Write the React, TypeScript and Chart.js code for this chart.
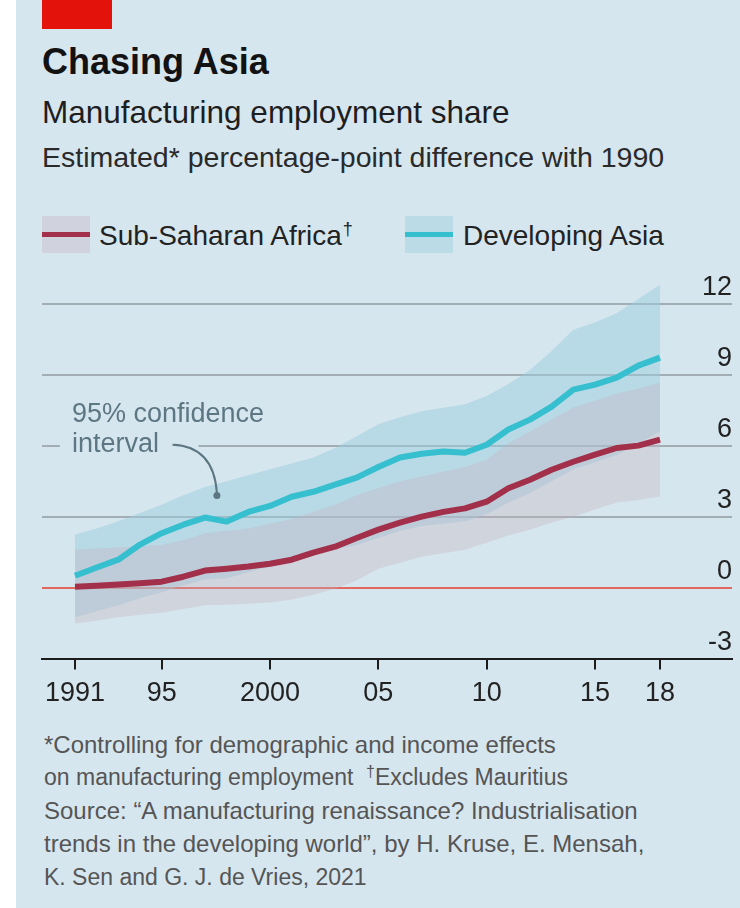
import React, { useEffect, useRef } from 'react';
import { Chart, registerables } from 'chart.js';

Chart.register(...registerables);

// ---------- data ----------
const YEARS = [1991, 1992, 1993, 1994, 1995, 1996, 1997, 1998, 1999, 2000, 2001, 2002, 2003, 2004,
  2005, 2006, 2007, 2008, 2009, 2010, 2011, 2012, 2013, 2014, 2015, 2016, 2017, 2018];

const AFRICA = [0.04, 0.08, 0.13, 0.18, 0.25, 0.46, 0.72, 0.8, 0.89, 1.01, 1.18, 1.48, 1.73, 2.1,
  2.45, 2.75, 3.0, 3.2, 3.35, 3.63, 4.2, 4.56, 4.98, 5.32, 5.62, 5.9, 6.0, 6.25];
const AFRICA_LOW = [-1.52, -1.4, -1.25, -1.15, -1.06, -0.9, -0.75, -0.72, -0.68, -0.63, -0.5, -0.3, -0.05, 0.3,
  0.8, 1.05, 1.3, 1.45, 1.6, 1.9, 2.2, 2.45, 2.75, 3.0, 3.3, 3.6, 3.7, 3.85];
const AFRICA_HIGH = [1.6, 1.65, 1.7, 1.75, 1.8, 2.0, 2.3, 2.4, 2.5, 2.7, 2.9, 3.2, 3.5, 3.9,
  4.2, 4.5, 4.7, 4.9, 5.1, 5.4, 6.1, 6.6, 7.1, 7.6, 7.9, 8.2, 8.4, 8.66];

const ASIA = [0.5, 0.85, 1.18, 1.82, 2.3, 2.66, 2.96, 2.79, 3.2, 3.45, 3.84, 4.05, 4.35, 4.65,
  5.1, 5.5, 5.66, 5.75, 5.7, 6.04, 6.68, 7.1, 7.65, 8.37, 8.58, 8.87, 9.38, 9.72];
const ASIA_LOW = [-1.25, -1.0, -0.75, -0.45, -0.2, 0.1, 0.35, 0.4, 0.65, 0.9, 1.2, 1.4, 1.6, 1.8,
  2.1, 2.4, 2.6, 2.7, 2.8, 3.1, 3.6, 4.0, 4.5, 5.0, 5.3, 5.6, 6.1, 6.6];
const ASIA_HIGH = [2.24, 2.5, 2.8, 3.15, 3.5, 3.9, 4.25, 4.5, 4.75, 5.0, 5.25, 5.5, 5.9, 6.4,
  6.9, 7.2, 7.45, 7.6, 7.75, 8.1, 8.6, 9.2, 10.0, 10.9, 11.2, 11.6, 12.2, 12.8];

const X_TICKS = [1991, 1995, 2000, 2005, 2010, 2015, 2018];
const X_LABELS = ['1991', '95', '2000', '05', '10', '15', '18'];
const Y_TICKS = [-3, 0, 3, 6, 9, 12];
const SERIES_NAMES = ['Sub-Saharan Africa', 'Developing Asia'];

// ---------- styles ----------
const BG = '#d6e6ef';
const AFRICA_COLOR = '#a3304b';
const ASIA_COLOR = '#36bfcf';
const AFRICA_FILL = 'rgba(197,179,190,0.35)';
const ASIA_FILL = 'rgba(154,206,221,0.5)';
const AFRICA_BOX = '#d0d3dd';
const ASIA_BOX = '#bbdbe7';
const GRID = '#a2adb4';
const ZERO = '#e2685f';
const AXIS = '#1c1c1c';
const ANNOT = '#5c7682';
const TEXT_FONT = "'Liberation Sans', Arial, sans-serif";

const toPoints = (vals: number[]) => YEARS.map((yr, i) => ({ x: yr, y: vals[i] }));

const annotationPlugin = {
  id: 'ciAnnotation',
  beforeDatasetsDraw(chart: any) {
    const { ctx, scales } = chart;
    const x = scales.x;
    const y = scales.y;
    const x0 = x.getPixelForValue(1990.3);
    const x1 = x.getPixelForValue(1996.7);
    const gy = y.getPixelForValue(6);
    ctx.save();
    ctx.fillStyle = BG;
    ctx.fillRect(x0, gy - 3, x1 - x0, 6);
    ctx.restore();
  },
  afterDatasetsDraw(chart: any) {
    const { ctx, scales } = chart;
    const x = scales.x;
    const y = scales.y;
    ctx.save();
    ctx.fillStyle = ANNOT;
    ctx.font = `27px ${TEXT_FONT}`;
    ctx.textAlign = 'left';
    ctx.textBaseline = 'alphabetic';
    ctx.fillText('95% confidence', x.getPixelForValue(1990.86), y.getPixelForValue(6.99));
    ctx.fillText('interval', x.getPixelForValue(1990.86), y.getPixelForValue(5.72));
    ctx.strokeStyle = ANNOT;
    ctx.lineWidth = 2;
    ctx.beginPath();
    ctx.moveTo(x.getPixelForValue(1995.5), y.getPixelForValue(6.04));
    ctx.quadraticCurveTo(x.getPixelForValue(1997.4), y.getPixelForValue(5.98),
      x.getPixelForValue(1997.55), y.getPixelForValue(4.0));
    ctx.stroke();
    ctx.beginPath();
    ctx.arc(x.getPixelForValue(1997.55), y.getPixelForValue(3.89), 3.5, 0, Math.PI * 2);
    ctx.fill();
    ctx.restore();
  },
};

function ChartCanvas() {
  const ref = useRef<HTMLCanvasElement | null>(null);
  useEffect(() => {
    if (!ref.current) return;
    const common = { pointRadius: 0, pointHoverRadius: 0, tension: 0 };
    const chart = new Chart(ref.current, {
      type: 'line',
      data: {
        datasets: [
          { ...common, label: 'asiaHigh', data: toPoints(ASIA_HIGH), borderWidth: 0, borderColor: 'transparent', backgroundColor: ASIA_FILL, fill: 1, order: 4 },
          { ...common, label: 'asiaLow', data: toPoints(ASIA_LOW), borderWidth: 0, borderColor: 'transparent', fill: false, order: 5 },
          { ...common, label: 'africaHigh', data: toPoints(AFRICA_HIGH), borderWidth: 0, borderColor: 'transparent', backgroundColor: AFRICA_FILL, fill: 3, order: 2 },
          { ...common, label: 'africaLow', data: toPoints(AFRICA_LOW), borderWidth: 0, borderColor: 'transparent', fill: false, order: 3 },
          { ...common, label: SERIES_NAMES[1], data: toPoints(ASIA), borderWidth: 6, borderColor: ASIA_COLOR, fill: false, order: 1, borderJoinStyle: 'round' },
          { ...common, label: SERIES_NAMES[0], data: toPoints(AFRICA), borderWidth: 6, borderColor: AFRICA_COLOR, fill: false, order: 0, borderJoinStyle: 'round' },
        ],
      },
      options: {
        animation: false,
        responsive: false,
        devicePixelRatio: 1,
        layout: { padding: { left: 42, right: 8, top: 20, bottom: 2 } },
        plugins: { legend: { display: false }, tooltip: { enabled: false } },
        scales: {
          x: {
            type: 'linear',
            position: 'bottom',
            min: 1989.477,
            max: 2021.323,
            afterBuildTicks: (scale: any) => { scale.ticks = X_TICKS.map((v) => ({ value: v })); },
            ticks: {
              autoSkip: false,
              maxRotation: 0,
              padding: 8,
              color: '#222',
              font: { family: TEXT_FONT, size: 27 },
              callback: (v: any) => X_LABELS[X_TICKS.indexOf(Number(v))] ?? '',
            },
            grid: { drawOnChartArea: false, drawTicks: true, tickLength: 11, color: AXIS, lineWidth: 2 },
            border: { display: true, color: AXIS, width: 2 },
          },
          y: {
            type: 'linear',
            position: 'right',
            min: -3,
            max: 13,
            afterBuildTicks: (scale: any) => { scale.ticks = Y_TICKS.map((v) => ({ value: v })); },
            ticks: {
              mirror: true,
              padding: 0,
              labelOffset: -16,
              color: '#222',
              font: { family: TEXT_FONT, size: 27 },
              callback: (v: any) => String(v),
            },
            grid: {
              drawTicks: false,
              lineWidth: 2,
              color: (c: any) => (c.tick && c.tick.value === 0 ? ZERO : c.tick && c.tick.value === -3 ? AXIS : GRID),
            },
            border: { display: false },
          },
        },
      },
      plugins: [annotationPlugin],
    } as any);
    return () => chart.destroy();
  }, []);
  return <canvas ref={ref} width={740} height={460} style={{ position: 'absolute', left: 0, top: 260, width: 740, height: 460 }} />;
}

const abs = (o: React.CSSProperties): React.CSSProperties => ({ position: 'absolute', whiteSpace: 'nowrap', ...o });

export default function App() {
  return (
    <div style={{ position: 'absolute', left: 0, top: 0, width: 740, height: 908, background: '#fff', overflow: 'hidden', fontFamily: TEXT_FONT }}>
      <div style={abs({ left: 16, top: 0, width: 724, height: 908, background: BG })} />
      <div style={abs({ left: 42, top: 0, width: 70, height: 29, background: '#e3120b' })} />
      <div style={abs({ left: 42, top: 44, fontSize: 36, lineHeight: '36px', fontWeight: 700, color: '#121212' })}>Chasing Asia</div>
      <div style={abs({ left: 42, top: 97, fontSize: 31.5, lineHeight: '31.5px', color: '#1e1e1e' })}>Manufacturing employment share</div>
      <div style={abs({ left: 42, top: 143, fontSize: 28.5, lineHeight: '28.5px', color: '#2a2a2a' })}>Estimated* percentage-point difference with 1990</div>

      <div style={abs({ left: 42, top: 216, width: 48, height: 37, background: AFRICA_BOX })}>
        <div style={abs({ left: 0, top: 16, width: 48, height: 5, background: AFRICA_COLOR })} />
      </div>
      <div style={abs({ left: 99, top: 222, fontSize: 28, lineHeight: '28px', color: '#222' })}>
        {SERIES_NAMES[0]}<span style={{ fontSize: 18, position: 'relative', top: -10, marginLeft: 1 }}>†</span>
      </div>
      <div style={abs({ left: 405, top: 216, width: 48, height: 37, background: ASIA_BOX })}>
        <div style={abs({ left: 0, top: 16, width: 48, height: 5, background: ASIA_COLOR })} />
      </div>
      <div style={abs({ left: 463, top: 222, fontSize: 28, lineHeight: '28px', color: '#222' })}>{SERIES_NAMES[1]}</div>

      <ChartCanvas />

      <div style={abs({ left: 44, top: 733, fontSize: 24, lineHeight: '24px', color: '#555' })}>*Controlling for demographic and income effects</div>
      <div style={abs({ left: 44, top: 765, fontSize: 23, lineHeight: '24px', color: '#555' })}>on manufacturing employment</div>
      <div style={abs({ left: 366, top: 765, fontSize: 23, lineHeight: '24px', color: '#555' })}>
        <span style={{ fontSize: 16, position: 'relative', top: -8 }}>†</span>Excludes Mauritius
      </div>
      <div style={abs({ left: 44, top: 799, fontSize: 24, lineHeight: '24px', color: '#555' })}>Source: “A manufacturing renaissance? Industrialisation</div>
      <div style={abs({ left: 44, top: 832, fontSize: 24, lineHeight: '24px', color: '#555' })}>trends in the developing world”, by H. Kruse, E. Mensah,</div>
      <div style={abs({ left: 44, top: 865, fontSize: 23, lineHeight: '24px', color: '#555' })}>K. Sen and G. J. de Vries, 2021</div>
    </div>
  );
}
